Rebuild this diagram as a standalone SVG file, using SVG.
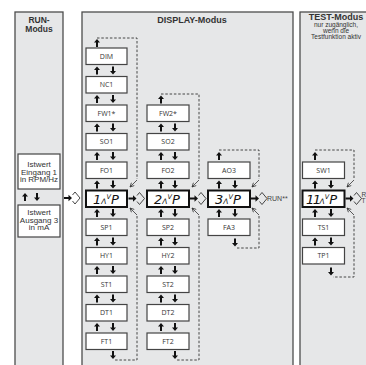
<svg xmlns="http://www.w3.org/2000/svg" width="366" height="365" viewBox="0 0 366 365">
<style>
.panel{fill:#e6e7e8;stroke:#4d4d4d;stroke-width:1.3}
.box{fill:#fff;stroke:#444;stroke-width:1.2}
.disp{fill:#fff;stroke:#111;stroke-width:2}
.t{font-family:"Open Sans","Noto Sans",sans-serif;font-size:7px;fill:#333;text-anchor:middle}
.h{font-family:"Liberation Sans",Arial,sans-serif;font-weight:bold;font-size:9px;fill:#333;text-anchor:middle}
.s{font-family:"Liberation Sans",Arial,sans-serif;font-size:6.5px;fill:#333;text-anchor:middle}
.r{font-family:"Liberation Sans",Arial,sans-serif;font-size:8px;fill:#333;text-anchor:middle}
.l{font-family:"Liberation Sans",Arial,sans-serif;font-size:7px;fill:#444}
.seg{font-family:"DejaVu Sans",sans-serif;font-style:italic;fill:#111}
.dash{fill:none;stroke:#333;stroke-width:0.9;stroke-dasharray:2.5 1.8}
.diag{fill:none;stroke:#333;stroke-width:0.8;marker-end:url(#open)}
.ar{fill:#111}
</style>
<defs>
<path id="au" d="M0,-4 L3,-0.5 L1,-0.5 L1,4 L-1,4 L-1,-0.5 L-3,-0.5 Z"/>
<path id="ad" d="M0,4 L3,0.5 L1,0.5 L1,-4 L-1,-4 L-1,0.5 L-3,0.5 Z"/>
<g id="enter"><path d="M0,-1 H4.5 V-3.2 L8,0 L4.5,3.2 V1 H0 Z" fill="#111"/><path d="M8.5,-3 L11,-6 L16,0 L11,6 L8.5,3" fill="none" stroke="#333" stroke-width="0.9"/></g>
<marker id="open" markerUnits="userSpaceOnUse" markerWidth="5" markerHeight="5" refX="4.5" refY="2.5" orient="auto" viewBox="0 0 5 5"><path d="M0.5,0.5 L4.5,2.5 L0.5,4.5" fill="none" stroke="#333" stroke-width="0.8"/></marker>
</defs>

<g id="panels">
<rect class="panel" x="15" y="12" width="48" height="360"/>
<rect class="panel" x="82" y="12" width="211" height="360"/>
<rect class="panel" x="300" y="12" width="80" height="360"/>
<text class="h" x="39" y="23" style="font-size:8.5px">RUN-</text>
<text class="h" x="39" y="32" style="font-size:8.5px">Modus</text>
<text class="h" x="192" y="22.5">DISPLAY-Modus</text>
<text class="h" x="336" y="20">TEST-Modus</text>
<text class="s" x="336" y="26.5">nur zugänglich,</text>
<text class="s" x="336" y="32.8">wenn die</text>
<text class="s" x="336" y="39">Testfunktion aktiv</text>
</g>

<g id="run-eingang"><rect class="box" x="18" y="154" width="42" height="35"/>
<text class="r" x="39" y="167">Istwert</text><text class="r" x="39" y="174.5">Eingang 1</text><text class="r" x="39" y="182">in RPM/Hz</text></g>
<g id="run-ausgang"><rect class="box" x="18" y="205" width="42" height="32"/>
<text class="r" x="39" y="215">Istwert</text><text class="r" x="39" y="222.5">Ausgang 3</text><text class="r" x="39" y="230">in mA</text></g>

<g id="dim"><rect class="box" x="86" y="48" width="41" height="16.5"/><text class="t" x="106.5" y="58.8">DIM</text></g>
<g id="nc1"><rect class="box" x="86" y="76.5" width="41" height="16.5"/><text class="t" x="106.5" y="87.3">NC1</text></g>
<g id="fw1"><rect class="box" x="86" y="105" width="41" height="16.5"/><text class="t" x="106.5" y="115.8">FW1*</text></g>
<g id="so1"><rect class="box" x="86" y="133.5" width="41" height="16.5"/><text class="t" x="106.5" y="144.3">SO1</text></g>
<g id="fo1"><rect class="box" x="86" y="162" width="41" height="16.5"/><text class="t" x="106.5" y="172.8">FO1</text></g>
<g id="disp1"><rect class="disp" x="86" y="190.5" width="41" height="16.5"/><text class="seg" x="93" y="204.3"><tspan font-size="13">1</tspan><tspan font-size="7.5">Λ</tspan><tspan font-size="6.5" dy="-5">V</tspan><tspan font-size="13" dy="5">P</tspan></text></g>
<g id="sp1"><rect class="box" x="86" y="219" width="41" height="16.5"/><text class="t" x="106.5" y="229.8">SP1</text></g>
<g id="hy1"><rect class="box" x="86" y="247.5" width="41" height="16.5"/><text class="t" x="106.5" y="258.3">HY1</text></g>
<g id="st1"><rect class="box" x="86" y="276" width="41" height="16.5"/><text class="t" x="106.5" y="286.8">ST1</text></g>
<g id="dt1"><rect class="box" x="86" y="304.5" width="41" height="16.5"/><text class="t" x="106.5" y="315.3">DT1</text></g>
<g id="ft1"><rect class="box" x="86" y="333" width="41" height="16.5"/><text class="t" x="106.5" y="343.8">FT1</text></g>

<g id="fw2"><rect class="box" x="147" y="105" width="42" height="16.5"/><text class="t" x="168" y="115.8">FW2*</text></g>
<g id="so2"><rect class="box" x="147" y="133.5" width="42" height="16.5"/><text class="t" x="168" y="144.3">SO2</text></g>
<g id="fo2"><rect class="box" x="147" y="162" width="42" height="16.5"/><text class="t" x="168" y="172.8">FO2</text></g>
<g id="disp2"><rect class="disp" x="147" y="190.5" width="42" height="16.5"/><text class="seg" x="154" y="204.3"><tspan font-size="13">2</tspan><tspan font-size="7.5">Λ</tspan><tspan font-size="6.5" dy="-5">V</tspan><tspan font-size="13" dy="5">P</tspan></text></g>
<g id="sp2"><rect class="box" x="147" y="219" width="42" height="16.5"/><text class="t" x="168" y="229.8">SP2</text></g>
<g id="hy2"><rect class="box" x="147" y="247.5" width="42" height="16.5"/><text class="t" x="168" y="258.3">HY2</text></g>
<g id="st2"><rect class="box" x="147" y="276" width="42" height="16.5"/><text class="t" x="168" y="286.8">ST2</text></g>
<g id="dt2"><rect class="box" x="147" y="304.5" width="42" height="16.5"/><text class="t" x="168" y="315.3">DT2</text></g>
<g id="ft2"><rect class="box" x="147" y="333" width="42" height="16.5"/><text class="t" x="168" y="343.8">FT2</text></g>

<g id="ao3"><rect class="box" x="208" y="162" width="42" height="16.5"/><text class="t" x="229" y="172.8">AO3</text></g>
<g id="disp3"><rect class="disp" x="208" y="190.5" width="42" height="16.5"/><text class="seg" x="215" y="204.3"><tspan font-size="13">3</tspan><tspan font-size="7.5">Λ</tspan><tspan font-size="6.5" dy="-5">V</tspan><tspan font-size="13" dy="5">P</tspan></text></g>
<g id="fa3"><rect class="box" x="208" y="219" width="42" height="16.5"/><text class="t" x="229" y="229.8">FA3</text></g>

<g id="sw1"><rect class="box" x="302.5" y="162" width="42" height="16.5"/><text class="t" x="323.5" y="172.8">SW1</text></g>
<g id="disp4"><rect class="disp" x="302.5" y="190.5" width="42" height="16.5"/><text class="seg" x="306" y="204.3"><tspan font-size="13" letter-spacing="-1.5">11</tspan><tspan font-size="7.5">Λ</tspan><tspan font-size="6.5" dy="-5">V</tspan><tspan font-size="13" dy="5">P</tspan></text></g>
<g id="ts1"><rect class="box" x="302.5" y="219" width="42" height="16.5"/><text class="t" x="323.5" y="229.8">TS1</text></g>
<g id="tp1"><rect class="box" x="302.5" y="247.5" width="42" height="16.5"/><text class="t" x="323.5" y="258.3">TP1</text></g>

<g id="connectors">
<path class="dash" d="M97,38 H137 V179"/><path class="dash" d="M137,216 V360 H115"/>
<path class="dash" d="M161,94 H199 V179"/><path class="dash" d="M199,216 V360 H177"/>
<path class="dash" d="M219,150 H259 V179"/><path class="dash" d="M259,216 V248 H237"/>
<path class="dash" d="M315,150 H354 V179"/><path class="dash" d="M354,216 V277 H333"/>
<path class="diag" d="M137,180 L130,187"/><path class="diag" d="M137,215 L130,208"/>
<path class="diag" d="M199,180 L192,187"/><path class="diag" d="M199,215 L192,208"/>
<path class="diag" d="M259,180 L252,187"/><path class="diag" d="M259,215 L252,208"/>
<path class="diag" d="M354,180 L347,187"/><path class="diag" d="M354,215 L347,208"/>
<g class="ar">
<use href="#au" x="25" y="197"/><use href="#ad" x="37" y="197"/>
<use href="#au" x="97" y="43"/>
<use href="#au" x="97" y="70.5"/><use href="#ad" x="113" y="70.5"/>
<use href="#au" x="97" y="99"/><use href="#ad" x="113" y="99"/>
<use href="#au" x="97" y="127.5"/><use href="#ad" x="113" y="127.5"/>
<use href="#au" x="97" y="156"/><use href="#ad" x="113" y="156"/>
<use href="#au" x="97" y="184.5"/><use href="#ad" x="113" y="184.5"/>
<use href="#au" x="97" y="213"/><use href="#ad" x="113" y="213"/>
<use href="#au" x="97" y="241.5"/><use href="#ad" x="113" y="241.5"/>
<use href="#au" x="97" y="270"/><use href="#ad" x="113" y="270"/>
<use href="#au" x="97" y="298.5"/><use href="#ad" x="113" y="298.5"/>
<use href="#au" x="97" y="327"/><use href="#ad" x="113" y="327"/>
<use href="#ad" x="113" y="355"/>
<use href="#au" x="161" y="99.5"/>
<use href="#au" x="161" y="127.5"/><use href="#ad" x="175" y="127.5"/>
<use href="#au" x="161" y="156"/><use href="#ad" x="175" y="156"/>
<use href="#au" x="161" y="184.5"/><use href="#ad" x="175" y="184.5"/>
<use href="#au" x="161" y="213"/><use href="#ad" x="175" y="213"/>
<use href="#au" x="161" y="241.5"/><use href="#ad" x="175" y="241.5"/>
<use href="#au" x="161" y="270"/><use href="#ad" x="175" y="270"/>
<use href="#au" x="161" y="298.5"/><use href="#ad" x="175" y="298.5"/>
<use href="#au" x="161" y="327"/><use href="#ad" x="175" y="327"/>
<use href="#ad" x="175" y="355"/>
<use href="#au" x="219" y="156"/>
<use href="#au" x="219" y="184.5"/><use href="#ad" x="235" y="184.5"/>
<use href="#au" x="219" y="213"/><use href="#ad" x="235" y="213"/>
<use href="#ad" x="235" y="242.5"/>
<use href="#au" x="315" y="156"/>
<use href="#au" x="315" y="184.5"/><use href="#ad" x="331" y="184.5"/>
<use href="#au" x="315" y="213"/><use href="#ad" x="331" y="213"/>
<use href="#au" x="315" y="241.5"/><use href="#ad" x="331" y="241.5"/>
<use href="#ad" x="331" y="271.5"/>
</g>
<use href="#enter" x="64" y="198"/>
<use href="#enter" x="128.5" y="198.5"/>
<use href="#enter" x="190" y="198.5"/>
<use href="#enter" x="251" y="198.5"/>
<use href="#enter" x="345.5" y="198.5"/>
<text class="l" x="267" y="201">RUN**</text>
<text class="l" x="361.5" y="196.5" style="font-size:6.5px">R</text>
<text class="l" x="361.5" y="203" style="font-size:6.5px">T</text>
</g>
</svg>
